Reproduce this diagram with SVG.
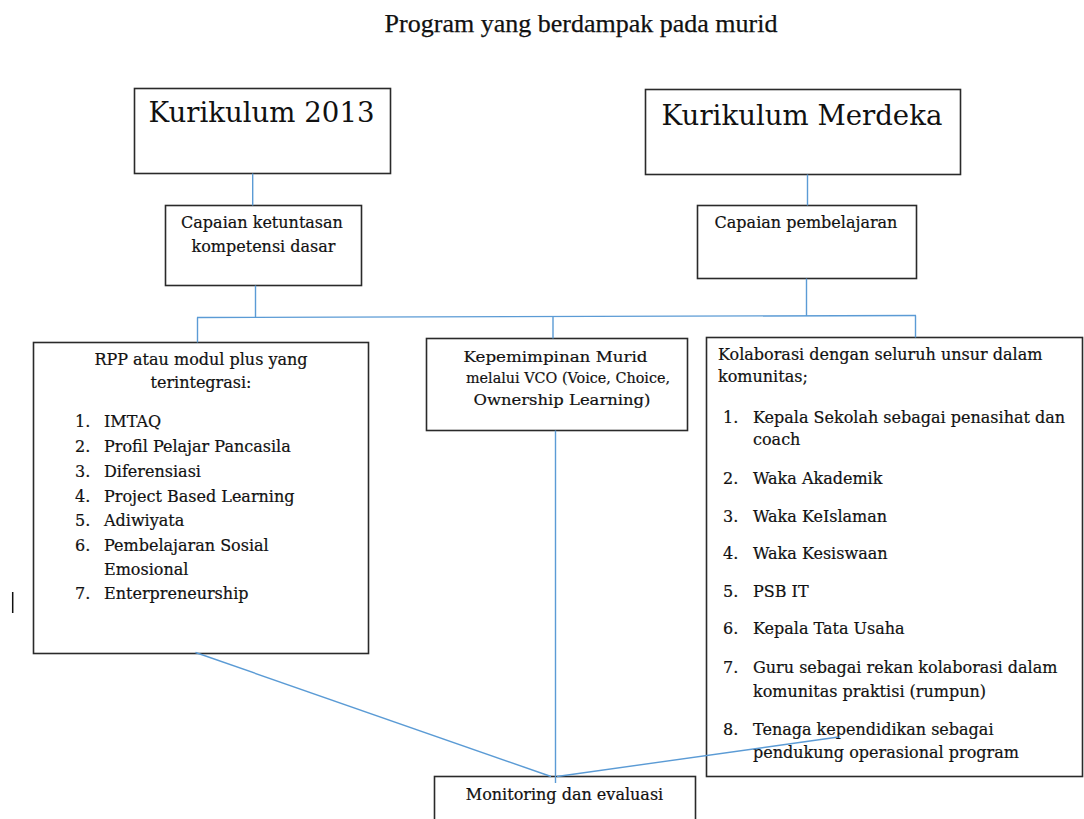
<svg xmlns="http://www.w3.org/2000/svg" width="1084" height="819" viewBox="0 0 1084 819">
<style>
.box{fill:#fff;stroke:#2a2a2a;stroke-width:1.6}
.conn{fill:none;stroke:#5b9bd5;stroke-width:1.4}
.t{font-family:"DejaVu Serif",serif;font-size:16px;fill:#111;stroke:#111;stroke-width:0.2}
.big{font-family:"DejaVu Serif",serif;font-size:27.6px;fill:#111}
.title{font-family:"Liberation Serif","Times New Roman",serif;font-size:26px;fill:#111;stroke:#111;stroke-width:0.25}
.m{text-anchor:middle}
</style>
<rect width="1084" height="819" fill="#fff"/>
<text class="title m" x="581" y="32">Program yang berdampak pada murid</text>

<g id="k2013">
<rect class="box" x="134.5" y="88.5" width="256" height="85"/>
<text class="big m" x="261.5" y="122">Kurikulum 2013</text>
</g>
<g id="kmerdeka">
<rect class="box" x="645.5" y="89.5" width="315" height="85"/>
<text class="big m" x="802" y="125">Kurikulum Merdeka</text>
</g>
<g id="capaian-kd">
<rect class="box" x="165.5" y="205.5" width="196" height="80"/>
<text class="t m" x="262" y="228">Capaian ketuntasan</text>
<text class="t m" x="263.5" y="252">kompetensi dasar</text>
</g>
<g id="capaian-p">
<rect class="box" x="697.5" y="205.5" width="219" height="73"/>
<text class="t m" x="806" y="228">Capaian pembelajaran</text>
</g>
<g id="rpp">
<rect class="box" x="33.5" y="342.5" width="335" height="311"/>
<text class="t m" x="201" y="365">RPP atau modul plus yang</text>
<text class="t m" x="201" y="388">terintegrasi:</text>
<g class="t">
<text x="75" y="427">1.</text><text x="104" y="427">IMTAQ</text>
<text x="75" y="452">2.</text><text x="104" y="452">Profil Pelajar Pancasila</text>
<text x="75" y="477">3.</text><text x="104" y="477">Diferensiasi</text>
<text x="75" y="502">4.</text><text x="104" y="502">Project Based Learning</text>
<text x="75" y="526">5.</text><text x="104" y="526">Adiwiyata</text>
<text x="75" y="551">6.</text><text x="104" y="551">Pembelajaran Sosial</text>
<text x="104" y="575">Emosional</text>
<text x="75" y="599">7.</text><text x="104" y="599">Enterpreneurship</text>
</g>
</g>
<g id="vco">
<rect class="box" x="426.5" y="338.5" width="261" height="92"/>
<text class="t" style="font-size:15.5px" x="463.5" y="362" textLength="184" lengthAdjust="spacingAndGlyphs">Kepemimpinan Murid</text>
<text class="t" style="font-size:15.5px" x="466" y="383" textLength="204" lengthAdjust="spacingAndGlyphs">melalui VCO (Voice, Choice,</text>
<text class="t" style="font-size:15.5px" x="473.5" y="405" textLength="177" lengthAdjust="spacingAndGlyphs">Ownership Learning)</text>
</g>
<g id="kolaborasi">
<rect class="box" x="706.5" y="337.5" width="376" height="439"/>
<g class="t">
<text x="718" y="360">Kolaborasi dengan seluruh unsur dalam</text>
<text x="718" y="382">komunitas;</text>
<text x="723" y="423">1.</text><text x="753" y="423">Kepala Sekolah sebagai penasihat dan</text>
<text x="753" y="445">coach</text>
<text x="723" y="484">2.</text><text x="753" y="484">Waka Akademik</text>
<text x="723" y="522">3.</text><text x="753" y="522">Waka KeIslaman</text>
<text x="723" y="559">4.</text><text x="753" y="559">Waka Kesiswaan</text>
<text x="723" y="597">5.</text><text x="753" y="597">PSB IT</text>
<text x="723" y="634">6.</text><text x="753" y="634">Kepala Tata Usaha</text>
<text x="723" y="673">7.</text><text x="753" y="673">Guru sebagai rekan kolaborasi dalam</text>
<text x="753" y="697">komunitas praktisi (rumpun)</text>
<text x="723" y="735">8.</text><text x="753" y="735">Tenaga kependidikan sebagai</text>
<text x="753" y="758">pendukung operasional program</text>
</g>
</g>
<g id="monev">
<rect class="box" x="434.5" y="776.5" width="261" height="60"/>
<text class="t m" x="564.5" y="800">Monitoring dan evaluasi</text>
</g>

<g id="connectors">
<line class="conn" x1="252.7" y1="173.5" x2="252.7" y2="205.5"/>
<line class="conn" x1="807.5" y1="174.5" x2="807.5" y2="205.5"/>
<line class="conn" x1="255.5" y1="285.5" x2="255.5" y2="317"/>
<line class="conn" x1="806.5" y1="278.5" x2="806.5" y2="316"/>
<line class="conn" x1="197" y1="317.5" x2="916" y2="315.5"/>
<line class="conn" x1="197.5" y1="317.5" x2="197.5" y2="342.5"/>
<line class="conn" x1="553" y1="316.5" x2="553" y2="338.5"/>
<line class="conn" x1="915.5" y1="315.5" x2="915.5" y2="337.5"/>
<line class="conn" x1="555.5" y1="430.5" x2="555.5" y2="783"/>
<line class="conn" x1="195.5" y1="652.5" x2="551" y2="776.5"/>
<line class="conn" x1="557" y1="776.5" x2="838.5" y2="737"/>
</g>
<line x1="12.7" y1="592" x2="12.7" y2="613" stroke="#111" stroke-width="1.5"/>
</svg>
